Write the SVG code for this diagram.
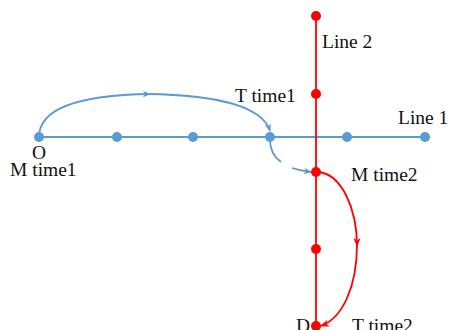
<svg xmlns="http://www.w3.org/2000/svg" width="450" height="330" viewBox="0 0 450 330">
  <style>
    .lbl { font-family: "Liberation Serif", "Times New Roman", serif; font-size: 19.5px; fill: #111; }
    .blue { stroke: #5b9bd5; fill: none; stroke-width: 1.8; }
    .red { stroke: #ff0000; fill: none; stroke-width: 1.8; }
    .bdot { fill: #5b9bd5; }
    .rdot { fill: #ff0000; }
  </style>
  <defs>
    <marker id="arrB" viewBox="0 0 10 10" refX="9" refY="5" markerWidth="8" markerHeight="8" orient="auto" markerUnits="userSpaceOnUse">
      <path d="M0,1 L10,5 L0,9 L3,5 Z" fill="#5b9bd5"/>
    </marker>
    <marker id="arrR" viewBox="0 0 10 10" refX="9" refY="5" markerWidth="9" markerHeight="9" orient="auto" markerUnits="userSpaceOnUse">
      <path d="M0,1 L10,5 L0,9 L3,5 Z" fill="#ff0000"/>
    </marker>
  </defs>
  <rect width="450" height="330" fill="#ffffff"/>

  <g id="connectors">
    <!-- Line 1 (blue) and Line 2 (red) -->
    <line class="blue" x1="39" y1="137" x2="425" y2="137" stroke-width="2"/>
    <line class="red" x1="316" y1="16" x2="316" y2="330" stroke-width="2.4"/>
    <!-- blue transfer arc O -> T time1 -->
    <path class="blue" d="M39,137 C39,108 80,95 150,94" marker-end="url(#arrB)"/>
    <path class="blue" d="M148,94 C215,95 262,106 270,131" marker-end="url(#arrB)"/>
    <!-- blue walk segment to M time2 -->
    <path class="blue" d="M270,140 C270,150 274,157 281,162"/>
    <path class="blue" d="M292,168 C298,170 304,171 311,172" marker-end="url(#arrB)"/>
    <!-- red transfer arc M time2 -> T time2 -->
    <path class="red" d="M316,172 C342,172 357,210 357,246" marker-end="url(#arrR)"/>
    <path class="red" d="M357,244 C357,288 342,318 321,326" marker-end="url(#arrR)"/>
  </g>

  <g id="line1-stops">
    <circle class="bdot" cx="39" cy="137" r="5"/>
    <circle class="bdot" cx="117" cy="137" r="5"/>
    <circle class="bdot" cx="193" cy="137" r="5"/>
    <circle class="bdot" cx="270" cy="137" r="5"/>
    <circle class="bdot" cx="347" cy="137" r="5"/>
    <circle class="bdot" cx="425" cy="137" r="5"/>
  </g>
  <g id="line2-stops">
    <circle class="rdot" cx="316" cy="16" r="5"/>
    <circle class="rdot" cx="316" cy="94" r="5"/>
    <circle class="rdot" cx="316" cy="172" r="5"/>
    <circle class="rdot" cx="316" cy="249" r="5"/>
    <circle class="rdot" cx="316" cy="326" r="5"/>
  </g>

  <g id="labels">
    <text class="lbl" x="322" y="48">Line 2</text>
    <text class="lbl" x="235" y="102">T time1</text>
    <text class="lbl" x="398" y="124">Line 1</text>
    <text class="lbl" x="32" y="159">O</text>
    <text class="lbl" x="10" y="176">M time1</text>
    <text class="lbl" x="351" y="181">M time2</text>
    <text class="lbl" x="296" y="332">D</text>
    <text class="lbl" x="352" y="332">T  time2</text>
  </g>
</svg>
